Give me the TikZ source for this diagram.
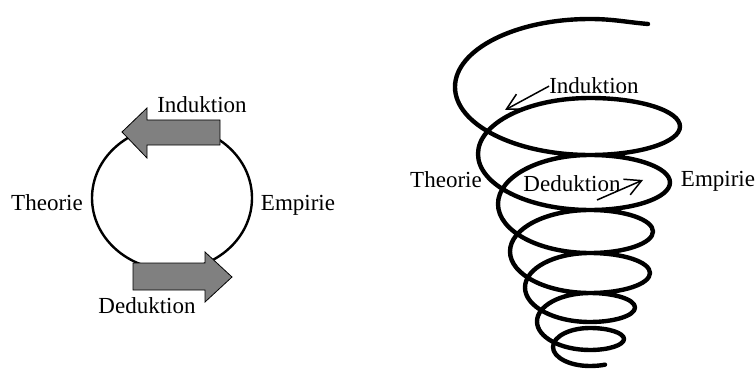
\documentclass[tikz,border=0pt]{standalone}
\usepackage{fontspec}
\setmainfont{Liberation Serif}
\usetikzlibrary{arrows.meta}
\definecolor{arrowgray}{RGB}{128,128,128}

\begin{document}
\begin{tikzpicture}[x=1pt, y=1pt, >={Straight Barb[length=16pt, width=17pt]},
    lbl/.style={font=\fontsize{23}{27}\selectfont, inner sep=0pt, anchor=base},
    blockarrow/.style={draw=black, line width=0.8pt, fill=arrowgray},
    spiral/.style={line width=4.4pt, line cap=round, line join=round}]
    \useasboundingbox (0,0) rectangle (756,-369);
    % Kreis
    \draw[line width=2.4pt] (172,-198) ellipse[x radius=80, y radius=72];
    \draw[blockarrow] (122,-132) -- (147,-108) -- (147,-120) -- (220,-120)
      -- (220,-145) -- (147,-145) -- (147,-158) -- cycle;
    \draw[blockarrow] (133,-263) -- (205,-263) -- (205,-252) -- (232,-277)
      -- (205,-302) -- (205,-290) -- (133,-290) -- cycle;
    \node[lbl] (indL) at (202,-113) {Induktion};
    \node[lbl] (theoL) at (47,-210) {Theorie};
    \node[lbl] (empL) at (298,-210) {Empirie};
    \node[lbl] (dedL) at (147,-313) {Deduktion};
    % Spirale
    \draw[spiral] (648,-24) to[out=175, in=0] (590,-19)
      arc[start angle=90, end angle=270, x radius=135, y radius=68]
      arc[start angle=-90, end angle=90, x radius=90, y radius=28.5]
      arc[start angle=90, end angle=270, x radius=112, y radius=56]
      arc[start angle=-90, end angle=90, x radius=80, y radius=27.5]
      arc[start angle=90, end angle=270, x radius=92, y radius=49]
      arc[start angle=-90, end angle=90, x radius=63, y radius=21.5]
      arc[start angle=90, end angle=270, x radius=80, y radius=41.5]
      arc[start angle=-90, end angle=90, x radius=60, y radius=20]
      arc[start angle=90, end angle=270, x radius=65, y radius=34.5]
      arc[start angle=-90, end angle=90, x radius=45, y radius=14.5]
      arc[start angle=90, end angle=270, x radius=53, y radius=28.5]
      arc[start angle=-90, end angle=90, x radius=34, y radius=11]
      arc[start angle=90, end angle=270, x radius=37, y radius=19]
      arc[start angle=-90, end angle=-60, x radius=30, y radius=10];
    \node[lbl] (indR) at (594,-94) {Induktion};
    \node[lbl] (theoR) at (446,-187) {Theorie};
    \node[lbl] (empR) at (718,-186) {Empirie};
    \node[lbl] (dedR) at (572,-191) {Deduktion};
    \coordinate (indtip) at (505,-110);
    \coordinate (dedtail) at (597,-200);
    \coordinate (dedtip) at (643,-180);
    \draw[->, line width=1.5pt] (indR.west) -- (indtip);
    \draw[->, line width=1.5pt] (dedtail) -- (dedtip);
\end{tikzpicture}
\end{document}
